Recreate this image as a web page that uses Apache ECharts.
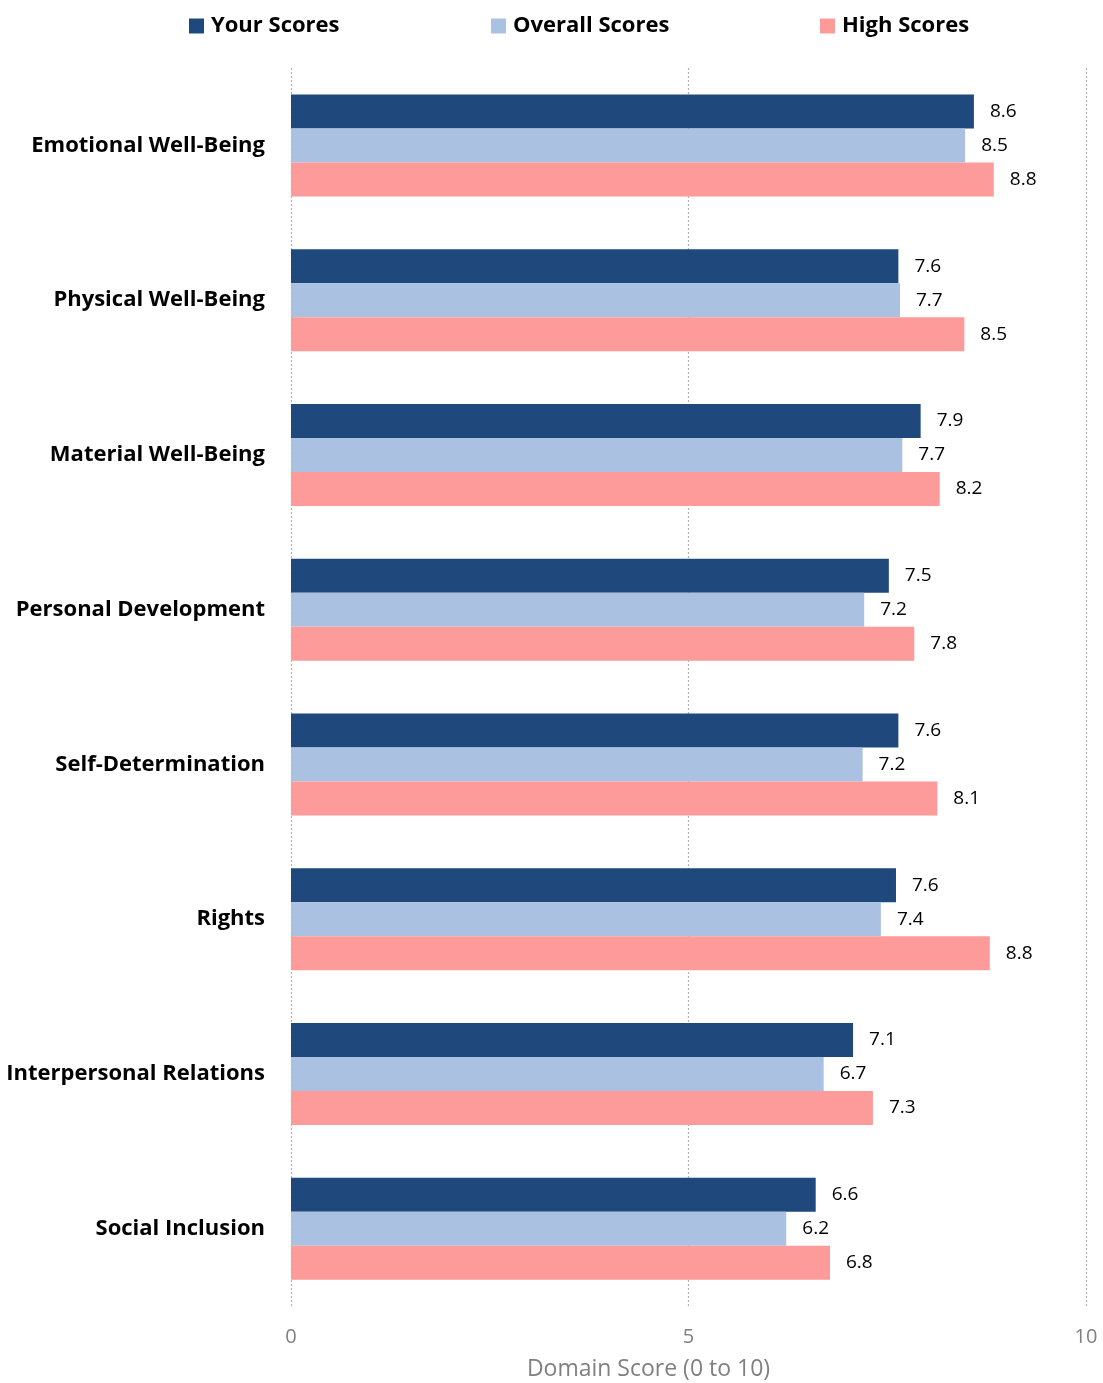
<!DOCTYPE html>
<html>
<head>
<meta charset="utf-8">
<script src="https://cdn.jsdelivr.net/npm/echarts@6/dist/echarts.min.js"></script>
<style>
  html, body { margin: 0; padding: 0; background: #fff; }
  #chart { width: 1103px; height: 1383px; }
</style>
</head>
<body>
<div id="chart"></div>
<script>
// domains, top to bottom
const domains = [
  "Emotional Well-Being",
  "Physical Well-Being",
  "Material Well-Being",
  "Personal Development",
  "Self-Determination",
  "Rights",
  "Interpersonal Relations",
  "Social Inclusion"
];
const yourScores = [8.59, 7.64, 7.92, 7.52, 7.64, 7.61, 7.07, 6.60];
const overallScores = [8.48, 7.66, 7.69, 7.21, 7.19, 7.42, 6.70, 6.23];
const highScores = [8.84, 8.47, 8.16, 7.84, 8.13, 8.79, 7.32, 6.78];
const xTicks = [0, 5, 10];

const FONT = "'Open Sans', sans-serif";

function barSeries(name, data, color) {
  return {
    name: name,
    type: "bar",
    data: data,
    barWidth: 34,
    barGap: "0%",
    itemStyle: { color: color },
    label: {
      show: true,
      position: "right",
      distance: 16,
      color: "#000",
      fontFamily: FONT,
      fontSize: 19,
      padding: [2, 0, 0, 0],
      formatter: p => p.value.toFixed(1)
    }
  };
}

function legendItem(name, left) {
  return {
    data: [name],
    top: 10,
    left: left,
    icon: "rect",
    itemWidth: 15,
    itemHeight: 15,
    itemGap: 0,
    textStyle: { fontFamily: FONT, fontSize: 22, fontWeight: "bold", color: "#000", padding: [0, 0, 0, 2] }
  };
}

const chart = echarts.init(document.getElementById("chart"));
chart.setOption({
  animation: false,
  backgroundColor: "#fff",
  legend: [
    legendItem("Your Scores", 184),
    legendItem("Overall Scores", 486),
    legendItem("High Scores", 815)
  ],
  grid: { left: 291, right: 17, top: 68, bottom: 77, containLabel: false, outerBoundsMode: "none" },
  xAxis: {
    type: "value",
    min: xTicks[0],
    max: xTicks[xTicks.length - 1],
    interval: 5,
    name: "Domain Score (0 to 10)",
    nameLocation: "middle",
    nameGap: 52,
    nameTextStyle: { fontFamily: FONT, fontSize: 23, color: "#808080", padding: [0, 80, 0, 0] },
    axisLine: { show: false },
    axisTick: { show: false },
    axisLabel: { fontFamily: FONT, fontSize: 20, color: "#808080", margin: 21 },
    splitLine: { show: true, lineStyle: { type: [2, 2], color: "#b4b4b4", width: 1.2 } }
  },
  yAxis: {
    type: "category",
    data: domains,
    inverse: true,
    axisLine: { show: false },
    axisTick: { show: false },
    axisLabel: { fontFamily: FONT, fontSize: 22, fontWeight: "bold", color: "#000", margin: 26 }
  },
  series: [
    barSeries("Your Scores", yourScores, "#1F497D"),
    barSeries("Overall Scores", overallScores, "#AAC1E1"),
    barSeries("High Scores", highScores, "#FD9A9A")
  ]
});
</script>
</body>
</html>
